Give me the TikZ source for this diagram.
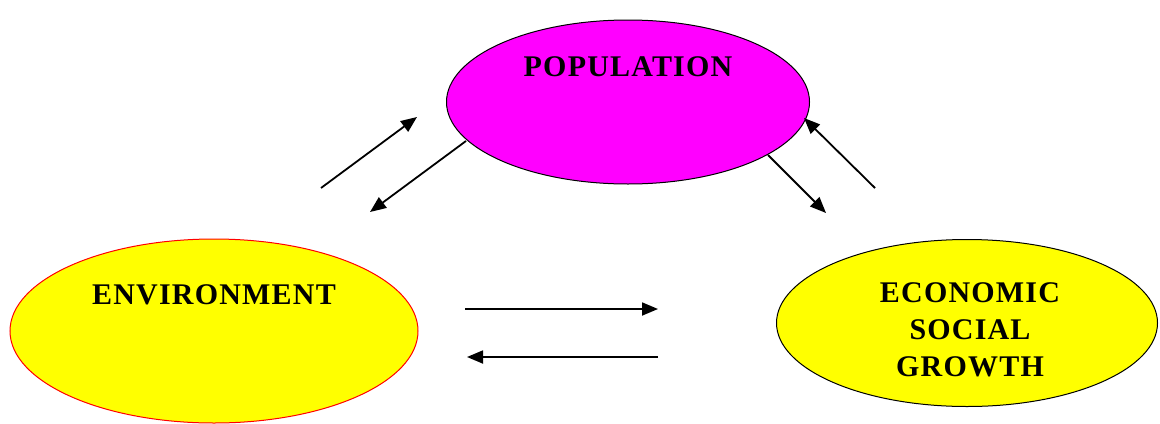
\documentclass[tikz,border=0pt]{standalone}
\usepackage{fontspec}
\setmainfont[LetterSpace=4]{Liberation Serif}
\usetikzlibrary{shapes.geometric, arrows.meta, positioning}
\definecolor{popmag}{RGB}{255,0,255}
\definecolor{blobyel}{RGB}{255,255,0}

\begin{document}
\begin{tikzpicture}[
                x=0.5pt, y=-0.5pt,
                >={Triangle[length=8pt,width=6.5pt]},
                blob/.style={
                    draw,
                    ellipse,
                    inner sep=0pt,
                    line width=0.5pt
                },
                lbl/.style={
                    font=\fontsize{15}{18.5}\selectfont\bfseries,
                    align=center
                },
                arr/.style={
                    ->,
                    line width=0.9pt
                }
            ]
                \useasboundingbox (0,0) rectangle (1160,423);

                \node[blob, fill=popmag, minimum width=181.5pt, minimum height=82pt] (pop) at (628,102) {};
                \node[blob, draw=red, fill=blobyel, minimum width=204pt, minimum height=92pt] (env) at (214,331) {};
                \node[blob, fill=blobyel, minimum width=190.5pt, minimum height=83.5pt] (eco) at (967,323) {};

                \node[lbl] (poptxt) at ([yshift=17.5pt]pop.center) {POPULATION};
                \node[lbl] (envtxt) at ([yshift=18pt]env.center) {ENVIRONMENT};
                \node[lbl] (ecotxt) at ([xshift=1.5pt,yshift=-3.5pt]eco.center) {ECONOMIC\\SOCIAL\\GROWTH};

                \coordinate (a1) at (321,188);
                \coordinate (b1) at (417,117);
                \coordinate (a2) at (466,141);
                \coordinate (b2) at (370,212);
                \coordinate (a3) at (768,155);
                \coordinate (b3) at (826,213);
                \coordinate (a4) at (875,188);
                \coordinate (b4) at (804,118);
                \coordinate (a5) at (465,309);
                \coordinate (b5) at (658,309);
                \coordinate (a6) at (658,357);
                \coordinate (b6) at (467,357);

                \draw[arr] (a1) -- (b1);
                \draw[arr] (a2) -- (b2);
                \draw[arr] (a3) -- (b3);
                \draw[arr] (a4) -- (b4);
                \draw[arr] (a5) -- (b5);
                \draw[arr] (a6) -- (b6);
            \end{tikzpicture}
\end{document}
